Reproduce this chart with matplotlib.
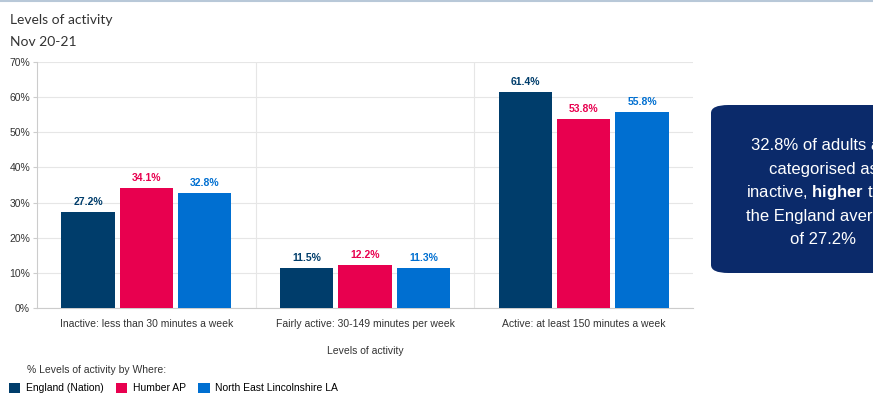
import matplotlib.pyplot as plt
import numpy as np
from matplotlib.patches import FancyBboxPatch

plt.rcParams["font.family"] = ["Liberation Sans", "DejaVu Sans"]
plt.rcParams["mathtext.fontset"] = "custom"
plt.rcParams["mathtext.bf"] = "Liberation Sans:bold"
plt.rcParams["mathtext.rm"] = "Liberation Sans"

# ===== DATA =====
categories = ["Inactive: less than 30 minutes a week",
              "Fairly active: 30-149 minutes per week",
              "Active: at least 150 minutes a week"]
series_names = ["England (Nation)", "Humber AP", "North East Lincolnshire LA"]
england = [27.2, 11.5, 61.4]
humber = [34.1, 12.2, 53.8]
nel = [32.8, 11.3, 55.8]
colors = ["#003d6b", "#e8004f", "#006fd1"]
yticks = [0, 10, 20, 30, 40, 50, 60, 70]

# ===== FIGURE =====
fig = plt.figure(figsize=(8.73, 4.03), dpi=100)
fig.patch.set_facecolor("white")
ax = fig.add_axes([37 / 873, 1 - 308 / 403, (693 - 37) / 873, (308 - 62) / 403])

x = np.arange(len(categories))
width = 0.243
gap = 0.024
for i, (vals, name, c) in enumerate(zip([england, humber, nel], series_names, colors)):
    pos = x + (i - 1) * (width + gap)
    ax.bar(pos, vals, width=width, color=c, label=name, zorder=3)
    for p, v in zip(pos, vals):
        ax.text(p, v + 1.4, f"{v:.1f}%", ha="center", va="bottom",
                fontsize=7.5, fontweight="bold", color=c)

ax.set_xlim(-0.5, 2.5)
ax.set_ylim(0, 70)
ax.set_yticks(yticks)
ax.set_yticklabels([f"{t}%" for t in yticks], fontsize=7.5, color="#333333")
ax.set_xticks(x)
ax.set_xticklabels(categories, fontsize=7.5, color="#333333")
ax.tick_params(axis="x", length=0, pad=8)
ax.tick_params(axis="y", length=3, color="#cccccc", pad=2)
ax.grid(axis="y", color="#e6e6e6", linewidth=0.8, zorder=0)
for b in [0.5, 1.5]:
    ax.axvline(b, color="#e6e6e6", linewidth=0.8, zorder=0)
for s in ["top", "right"]:
    ax.spines[s].set_visible(False)
for s in ["left", "bottom"]:
    ax.spines[s].set_color("#cccccc")
ax.set_xlabel("Levels of activity", fontsize=7.5, color="#333333", labelpad=12)

# titles
fig.text(10 / 873, 1 - 20 / 403, "Levels of activity", fontsize=10,
         family="Lato", color="#333333", va="center")
fig.text(10 / 873, 1 - 42 / 403, "Nov 20-21", fontsize=10,
         family="Lato", color="#333333", va="center")
fig.add_artist(plt.Line2D([0, 1], [1 - 1 / 403, 1 - 1 / 403], color="#b8c8d8", linewidth=1.5))

# legend
fig.text(27 / 873, 1 - 370 / 403, "% Levels of activity by Where:", fontsize=7.5,
         color="#333333", va="center")
handles, labels = ax.get_legend_handles_labels()
fig.legend(handles, labels, loc="center left", bbox_to_anchor=(9 / 873, 1 - 388 / 403),
           ncol=3, frameon=False, fontsize=7.5, handlelength=1.1, handleheight=1.1,
           handletextpad=0.5, columnspacing=1.2, borderaxespad=0, borderpad=0)

# callout box
box = FancyBboxPatch((711 / 873, 1 - 273 / 403), 230 / 873, 168 / 403,
                     boxstyle="round,pad=0,rounding_size=0.02",
                     transform=fig.transFigure, facecolor="#0b2a6a", edgecolor="none")
fig.add_artist(box)
cx = 823 / 873
callout = ["32.8% of adults are", "categorised as",
           r"inactive, $\bf{higher}$ than", "the England average", "of 27.2%"]
lines_y = [145, 169, 193, 217, 240]
for line, ly in zip(callout, lines_y):
    fig.text(cx, 1 - ly / 403, line, ha="center", va="center",
             fontsize=12, color="white")

plt.savefig("out.png", dpi=100)
